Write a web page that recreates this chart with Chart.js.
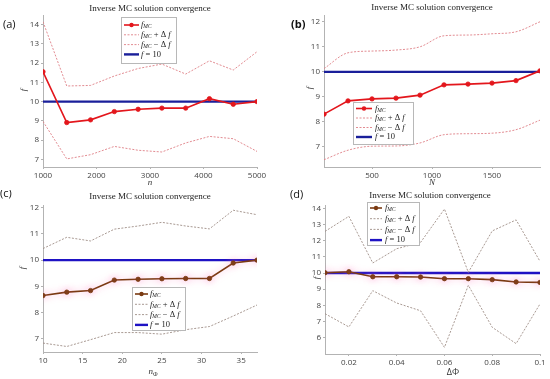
<!DOCTYPE html>
<html>
<head>
<meta charset="utf-8">
<script src="https://cdn.jsdelivr.net/npm/chart.js@4.4.1/dist/chart.umd.min.js"></script>
<style>
  body { margin: 0; background: #fff; width: 550px; height: 379px; position: relative; overflow: hidden; }
  .panel { position: absolute; width: 275px; height: 190px; }
</style>
</head>
<body>
<div class="panel" style="left:0;top:0"><canvas id="chA" width="275" height="190"></canvas></div>
<div class="panel" style="left:275px;top:0"><canvas id="chB" width="275" height="190"></canvas></div>
<div class="panel" style="left:0;top:190px"><canvas id="chC" width="275" height="189"></canvas></div>
<div class="panel" style="left:275px;top:190px"><canvas id="chD" width="275" height="189"></canvas></div>
<script>
// ---- data ----
const xA   = [1000, 1444, 1889, 2333, 2778, 3222, 3667, 4111, 4556, 5000];
const fA   = [11.55, 8.91, 9.05, 9.48, 9.60, 9.66, 9.66, 10.15, 9.86, 10.00];
const upA  = [14.15, 10.81, 10.84, 11.33, 11.72, 11.95, 11.43, 12.12, 11.64, 12.59];
const loA  = [8.97, 7.02, 7.24, 7.67, 7.47, 7.38, 7.85, 8.19, 8.07, 7.41];
const xTicksA = [1000, 2000, 3000, 4000, 5000];
const yTicksA = [7, 8, 9, 10, 11, 12, 13, 14];

const xB   = [100, 300, 500, 700, 900, 1100, 1300, 1500, 1700, 1900];
const fB   = [8.31, 8.84, 8.92, 8.95, 9.07, 9.48, 9.51, 9.55, 9.65, 10.04];
const upB  = [10.13, 10.76, 10.83, 10.87, 11.00, 11.44, 11.47, 11.52, 11.60, 12.00];
const loB  = [6.49, 6.87, 7.03, 7.04, 7.16, 7.49, 7.53, 7.55, 7.69, 8.07];
const xTicksB = [500, 1000, 1500];
const yTicksB = [7, 8, 9, 10, 11, 12];

const xC   = [10, 13, 16, 19, 22, 25, 28, 31, 34, 37];
const fC   = [8.65, 8.78, 8.84, 9.24, 9.27, 9.29, 9.30, 9.30, 9.89, 10.00];
const upC  = [10.44, 10.87, 10.73, 11.18, 11.30, 11.44, 11.30, 11.19, 11.90, 11.73];
const loC  = [6.84, 6.71, 6.97, 7.24, 7.24, 7.18, 7.35, 7.47, 7.87, 8.29];
const xTicksC = [10, 15, 20, 25, 30, 35];
const yTicksC = [7, 8, 9, 10, 11, 12];

const xD   = [0.01, 0.02, 0.03, 0.04, 0.05, 0.06, 0.07, 0.08, 0.09, 0.1];
const fD   = [10.02, 10.08, 9.77, 9.77, 9.75, 9.65, 9.65, 9.59, 9.45, 9.42];
const upD  = [12.57, 13.50, 10.62, 11.50, 11.89, 13.95, 10.04, 12.60, 13.28, 10.72];
const loD  = [7.49, 6.67, 8.91, 8.15, 7.67, 5.41, 9.24, 6.65, 5.64, 8.09];
const xTicksD = [0.02, 0.04, 0.06, 0.08, 0.1];
const yTicksD = [6, 7, 8, 9, 10, 11, 12, 13, 14];

const TARGET = 10;
const TITLE = "Inverse MC solution convergence";

const SERIF = "'Liberation Serif', 'DejaVu Serif', serif";
const SANS = "'Open Sans', 'Liberation Sans', sans-serif";

// ---- helpers ----
function pts(xs, ys) { return xs.map((x, i) => ({ x: x, y: ys[i] })); }

function richText(ctx, x, y, parts, align) {
  let w = 0;
  parts.forEach(p => { ctx.font = p.f; w += ctx.measureText(p.t).width; });
  let cx = align === "center" ? x - w / 2 : x;
  parts.forEach(p => {
    ctx.font = p.f;
    ctx.fillText(p.t, cx, y + (p.dy || 0));
    cx += ctx.measureText(p.t).width;
  });
}

const it = (s) => `italic ${s}px ${SERIF}`;
const rm = (s) => `${s}px ${SERIF}`;
const LEG_TEXT = [
  [{ t: "f", f: it(8.5) }, { t: "MC", f: it(5.5), dy: 2 }],
  [{ t: "f", f: it(8.5) }, { t: "MC", f: it(5.5), dy: 2 }, { t: " + Δ ", f: rm(8.5) }, { t: "f", f: it(8.5) }],
  [{ t: "f", f: it(8.5) }, { t: "MC", f: it(5.5), dy: 2 }, { t: " − Δ ", f: rm(8.5) }, { t: "f", f: it(8.5) }],
  [{ t: "f", f: it(8.5) }, { t: " = 10", f: rm(8.5) }]
];

// soft pink halo under the f_MC line (panels c, d)
const haloPlugin = {
  id: "halo",
  beforeDatasetDraw(chart, args, o) {
    if (!o.on || args.index !== 0) return;
    chart.ctx.save();
    chart.ctx.shadowColor = "rgba(255,120,190,0.55)";
    chart.ctx.shadowBlur = 7;
  },
  afterDatasetDraw(chart, args, o) {
    if (!o.on || args.index !== 0) return;
    chart.ctx.restore();
  }
};

// title, panel tag, axis names and the legend box
const decoPlugin = {
  id: "deco",
  afterDraw(chart, args, o) {
    const ctx = chart.ctx;
    ctx.save();
    ctx.textBaseline = "middle";
    ctx.fillStyle = "#222";

    ctx.textAlign = "center";
    ctx.font = rm(9);
    ctx.fillText(TITLE, o.title[0], o.title[1]);

    ctx.font = `${o.tag.w || 400} 11px ${SANS}`;
    ctx.fillStyle = "#111";
    ctx.textAlign = "left";
    ctx.fillText(o.tag.t, o.tag.x, o.tag.y);

    // x axis name
    ctx.fillStyle = "#333";
    ctx.textAlign = "left";
    richText(ctx, o.xName.x, o.xName.y, o.xName.parts, "center");

    // y axis name
    ctx.save();
    ctx.translate(o.yName[0], o.yName[1]);
    ctx.rotate(-Math.PI / 2);
    ctx.textAlign = "center";
    ctx.font = it(9);
    ctx.fillText("f", 0, 0);
    ctx.restore();

    // legend
    const L = o.legend;
    ctx.fillStyle = "#fff";
    ctx.fillRect(L.x, L.y, L.w, L.h);
    ctx.strokeStyle = "#b8b8b8";
    ctx.lineWidth = 1;
    ctx.strokeRect(L.x + 0.5, L.y + 0.5, L.w, L.h);
    const ds = chart.data.datasets;
    for (let i = 0; i < 4; i++) {
      const d = ds[i];
      const y = L.r0 + i * L.step;
      ctx.save();
      ctx.strokeStyle = d.borderColor;
      ctx.lineWidth = d.borderWidth;
      ctx.setLineDash(d.borderDash || []);
      ctx.beginPath();
      ctx.moveTo(L.s0, y);
      ctx.lineTo(L.s1, y);
      ctx.stroke();
      ctx.restore();
      if (i === 0) {
        ctx.fillStyle = d.pointBackgroundColor;
        ctx.beginPath();
        ctx.arc((L.s0 + L.s1) / 2, y, 2.2, 0, Math.PI * 2);
        ctx.fill();
      }
      ctx.fillStyle = "#222";
      ctx.textAlign = "left";
      richText(ctx, L.tx, y, LEG_TEXT[i], "left");
    }
    ctx.restore();
  }
};

function makePanel(id, cfg) {
  const tickFont = { family: SANS, size: 8 };
  const lineCol = cfg.lineColor;
  new Chart(document.getElementById(id), {
    type: "line",
    data: {
      datasets: [
        {
          data: pts(cfg.x, cfg.f), borderColor: lineCol, backgroundColor: lineCol,
          pointBackgroundColor: lineCol, pointBorderColor: lineCol,
          borderWidth: 1.6, pointRadius: 2.2, pointBorderWidth: 0.8, tension: 0
        },
        {
          data: pts(cfg.x, cfg.up), borderColor: cfg.bandColor, borderWidth: 0.9,
          borderDash: [2, 1.5], pointRadius: 0,
          cubicInterpolationMode: cfg.smooth ? "monotone" : "default"
        },
        {
          data: pts(cfg.x, cfg.lo), borderColor: cfg.bandColor, borderWidth: 0.9,
          borderDash: [2, 1.5], pointRadius: 0,
          cubicInterpolationMode: cfg.smooth ? "monotone" : "default"
        },
        {
          data: [{ x: cfg.xMin, y: TARGET }, { x: cfg.xMax, y: TARGET }],
          borderColor: cfg.targetColor, borderWidth: 2.4, pointRadius: 0
        }
      ]
    },
    options: {
      responsive: false,
      animation: false,
      devicePixelRatio: 1,
      layout: { padding: { left: cfg.area[0] - 30, top: cfg.area[1], right: cfg.W - cfg.area[2], bottom: cfg.H - cfg.area[3] - 22 } },
      plugins: {
        legend: { display: false },
        tooltip: { enabled: false },
        deco: cfg.deco,
        halo: { on: !!cfg.halo }
      },
      scales: {
        x: {
          type: "linear", min: cfg.xMin, max: cfg.xMax,
          border: { color: "#b3b3b3" },
          grid: { drawOnChartArea: false, tickLength: 2, color: "#b3b3b3" },
          ticks: { font: tickFont, color: "#444", padding: 2, maxRotation: 0, autoSkip: false,
                   callback: v => String(Math.round(v * 1000) / 1000) },
          afterBuildTicks: s => { s.ticks = cfg.xTicks.map(v => ({ value: v })); },
          afterFit: s => { s.height = 22; }
        },
        y: {
          min: cfg.yMin, max: cfg.yMax,
          border: { color: "#b3b3b3" },
          grid: { drawOnChartArea: false, tickLength: 2, color: "#b3b3b3" },
          ticks: { font: tickFont, color: "#444", padding: 2 },
          afterBuildTicks: s => { s.ticks = cfg.yTicks.map(v => ({ value: v })); },
          afterFit: s => { s.width = 30; }
        }
      }
    },
    plugins: [haloPlugin, decoPlugin]
  });
}

const RED = "#e3161c", PINK = "#df7f86", NAVY = "#1a1f9a";
const BROWN = "#7a3a12", GREYBROWN = "#9e8d86", VIOLET = "#1e12c4";

makePanel("chA", {
  W: 275, H: 190, area: [43, 15, 257, 167],
  x: xA, f: fA, up: upA, lo: loA, xTicks: xTicksA, yTicks: yTicksA,
  xMin: 1000, xMax: 5000, yMin: 6.6, yMax: 14.5, smooth: false,
  lineColor: RED, bandColor: PINK, targetColor: NAVY,
  deco: {
    title: [150, 9], tag: { t: "(a)", x: 3, y: 25 },
    xName: { x: 150, y: 183, parts: [{ t: "n", f: it(9) }] },
    yName: [24, 90],
    legend: { x: 121, y: 17, w: 55, h: 46, r0: 25, step: 9.8, s0: 124, s1: 139, tx: 141 }
  }
});

makePanel("chB", {
  W: 275, H: 190, area: [49, 15, 265, 167],
  x: xB, f: fB, up: upB, lo: loB, xTicks: xTicksB, yTicks: yTicksB,
  xMin: 100, xMax: 1900, yMin: 6.2, yMax: 12.27, smooth: true,
  lineColor: RED, bandColor: PINK, targetColor: NAVY,
  deco: {
    title: [157, 8], tag: { t: "(b)", x: 16, y: 25, w: 700 },
    xName: { x: 157, y: 183, parts: [{ t: "N", f: it(9) }] },
    yName: [35, 88],
    legend: { x: 78, y: 102, w: 60, h: 42, r0: 108.5, step: 9.5, s0: 81, s1: 97, tx: 100 }
  }
});

makePanel("chC", {
  W: 275, H: 189, area: [43, 15, 257, 162],
  x: xC, f: fC, up: upC, lo: loC, xTicks: xTicksC, yTicks: yTicksC,
  xMin: 10, xMax: 37, yMin: 6.5, yMax: 12.1, smooth: false, halo: true,
  lineColor: BROWN, bandColor: GREYBROWN, targetColor: VIOLET,
  deco: {
    title: [150, 7], tag: { t: "(c)", x: 0, y: 4 },
    xName: { x: 153, y: 182, parts: [{ t: "n", f: it(9) }, { t: "Φ", f: it(6), dy: 2 }] },
    yName: [23, 78],
    legend: { x: 132, y: 97, w: 53, h: 43, r0: 104, step: 10.3, s0: 135, s1: 148, tx: 150 }
  }
});

makePanel("chD", {
  W: 275, H: 189, area: [50, 15, 265, 164],
  x: xD, f: fD, up: upD, lo: loD, xTicks: xTicksD, yTicks: yTicksD,
  xMin: 0.01, xMax: 0.1, yMin: 5, yMax: 14.2, smooth: false, halo: true,
  lineColor: BROWN, bandColor: GREYBROWN, targetColor: VIOLET,
  deco: {
    title: [155, 6], tag: { t: "(d)", x: 15, y: 5 },
    xName: { x: 178, y: 182, parts: [{ t: "ΔΦ", f: `9px ${SANS}` }] },
    yName: [42, 88],
    legend: { x: 92, y: 12, w: 52, h: 43, r0: 18, step: 10.7, s0: 95, s1: 107, tx: 110 }
  }
});
</script>
</body>
</html>
